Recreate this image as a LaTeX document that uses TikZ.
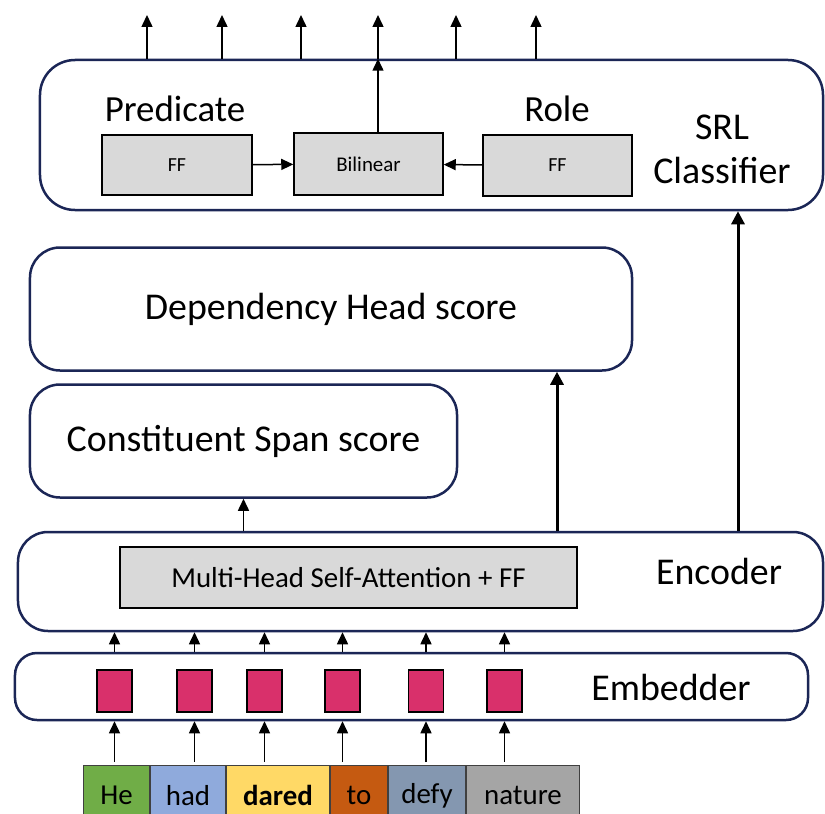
\documentclass[tikz,border=0pt]{standalone}
\usepackage{fontspec}
\setmainfont{Carlito}
\usepackage{xcolor}
\usetikzlibrary{arrows.meta, positioning, calc}

\definecolor{navy}{HTML}{1B2656}
\definecolor{boxgray}{HTML}{D9D9D9}
\definecolor{embpink}{HTML}{D9306B}
\definecolor{wgreen}{HTML}{70AD47}
\definecolor{wblue}{HTML}{8FAADC}
\definecolor{wyellow}{HTML}{FFD966}
\definecolor{worange}{HTML}{C55A11}
\definecolor{wslate}{HTML}{8497B0}
\definecolor{wgray}{HTML}{A5A5A5}

\begin{document}
\begin{tikzpicture}[
    x=1bp, y=-1bp,
    layer/.style={rectangle, draw=navy, line width=2.5bp, rounded corners=30bp, fill=white, inner sep=0pt},
    gbox/.style={rectangle, draw=black, line width=1.5bp, fill=boxgray, inner sep=0pt},
    embbox/.style={rectangle, draw=black, line width=1.5bp, fill=embpink, minimum width=35bp, minimum height=42bp, inner sep=0pt},
    word/.style={rectangle, draw=black!75, line width=1bp, minimum height=60bp, inner sep=0pt, font=\fontsize{29}{34}\selectfont},
    big/.style={font=\fontsize{38}{44}\selectfont},
    thin/.style={-{Triangle[length=12bp, width=11bp]}, line width=1.5bp},
    thick/.style={-{Triangle[length=13bp, width=13bp]}, line width=3bp}
]
\useasboundingbox (0,0) rectangle (825,814);

% Layers
\node[layer, minimum width=783bp, minimum height=150bp, rounded corners=35bp] (srl) at (431.5, 135) {};
\node[layer, minimum width=602bp, minimum height=123bp, big] (dep) at (331, 309) {Dependency Head score};
\node[layer, minimum width=427bp, minimum height=113bp, big] (const) at (243.5, 441) {Constituent Span score};
\node[layer, minimum width=805bp, minimum height=99bp] (enc) at (420.5, 581.5) {};
\node[layer, minimum width=793bp, minimum height=67bp, rounded corners=22bp] (emb) at (411.5, 686.5) {};

% Layer labels
\node[font=\fontsize{37}{42}\selectfont] (predlbl) at (175, 109) {Predicate};
\node[font=\fontsize{37}{42}\selectfont] (rolelbl) at (557, 109) {Role};
\node[big, align=center] (srllbl) at (722, 149) {SRL\\Classifier};
\node[big] (enclbl) at (719, 571) {Encoder};
\node[big] (emblbl) at (671, 687) {Embedder};

% SRL classifier parts
\node[gbox, minimum width=150bp, minimum height=60bp, font=\fontsize{20}{24}\selectfont] (predff) at (177, 165) {FF};
\node[gbox, minimum width=149bp, minimum height=62bp, font=\fontsize{21}{24}\selectfont] (bilin) at (368.5, 164) {Bilinear};
\node[gbox, minimum width=149bp, minimum height=61bp, font=\fontsize{20}{24}\selectfont] (roleff) at (557.5, 165.5) {FF};

% Encoder block
\node[gbox, minimum width=457bp, minimum height=61bp, font=\fontsize{29}{34}\selectfont] (mhsa) at (348.5, 577.5) {Multi-Head Self-Attention + FF};

% Embeddings
\node[embbox] (e1) at (114.5, 691) {};
\node[embbox] (e2) at (194.5, 691) {};
\node[embbox] (e3) at (264.5, 691) {};
\node[embbox] (e4) at (342.5, 691) {};
\node[embbox] (e5) at (426, 691) {};
\node[embbox] (e6) at (504.5, 691) {};

% Words
\node[word, fill=wgreen, minimum width=66bp, anchor=north west] (w1) at (83, 765) {He};
\node[word, fill=wblue, minimum width=75bp, right=0pt of w1] (w2) {had};
\node[word, fill=wyellow, minimum width=103bp, right=0pt of w2, font=\fontsize{29}{34}\selectfont\bfseries] (w3) {dared};
\node[word, fill=worange, minimum width=57bp, right=0pt of w3] (w4) {to};
\node[word, fill=wslate, minimum width=77bp, right=0pt of w4] (w5) {defy};
\node[word, fill=wgray, minimum width=113bp, right=0pt of w5] (w6) {nature};

% Output tips
\coordinate (t1) at (147, 15);
\coordinate (t2) at (222, 15);
\coordinate (t3) at (301, 15);
\coordinate (t4) at (378, 15);
\coordinate (t5) at (456, 15);
\coordinate (t6) at (536, 15);

% Connectors
\foreach \t in {t1, t2, t3, t4, t5, t6} {
    \draw[thin] (srl.north -| \t) -- (\t);
}
\draw[thin] (bilin.north -| t4) -- (srl.north -| t4);
\draw[thin] (predff) -- (bilin);
\draw[thin] (roleff) -- (bilin);

\draw[thin] (enc.north -| const) -- (const.south);
\draw[thick] (enc.north -| 557,0) -- (dep.south -| 557,0);
\draw[thick] (enc.north -| 738,0) -- (srl.south -| 738,0);

\foreach \e [count=\i] in {e1, e2, e3, e4, e5, e6} {
    \draw[thin] (emb.north -| \e) -- (enc.south -| \e);
    \draw[thin] (w\i.north -| \e) ++(0,-3) -- (emb.south -| \e);
}
\end{tikzpicture}
\end{document}
